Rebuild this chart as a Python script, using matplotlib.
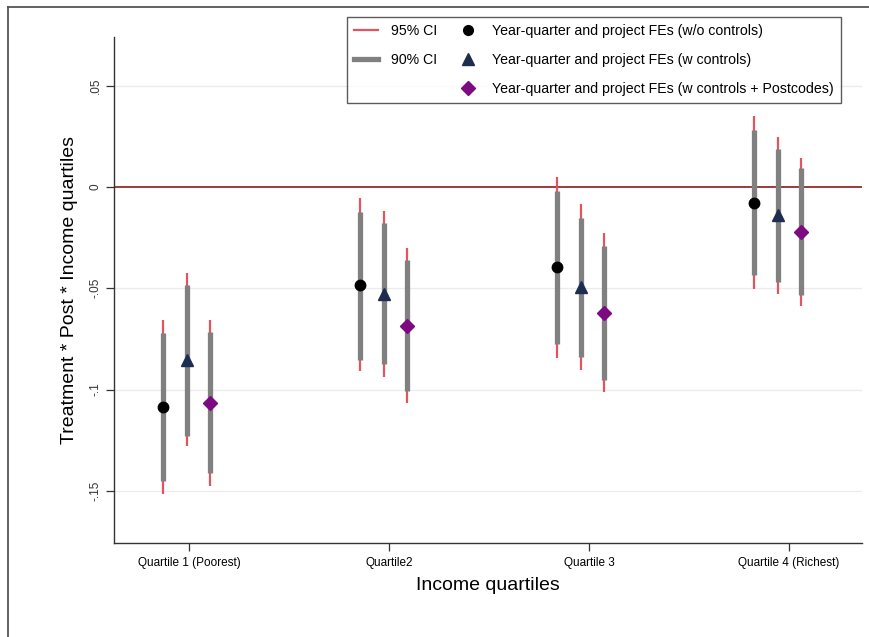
import matplotlib
matplotlib.use("Agg")
import matplotlib.pyplot as plt
from matplotlib.lines import Line2D
import numpy as np

plt.rcParams["font.family"] = ["Liberation Sans", "DejaVu Sans"]

# Income quartile categories
categories = ["Quartile 1 (Poorest)", "Quartile2", "Quartile 3", "Quartile 4 (Richest)"]

# Point estimates per specification
coef_noctrl = [-0.1088, -0.0484, -0.0395, -0.0077]
coef_ctrl = [-0.0854, -0.0526, -0.0494, -0.0139]
coef_postcode = [-0.1066, -0.0684, -0.0621, -0.0223]

# 95% confidence intervals (low, high)
ci95_noctrl_lo = [-0.1516, -0.0909, -0.0843, -0.0505]
ci95_noctrl_hi = [-0.0658, -0.0053, 0.0051, 0.0351]
ci95_ctrl_lo = [-0.1280, -0.0936, -0.0903, -0.0526]
ci95_ctrl_hi = [-0.0427, -0.0117, -0.0086, 0.0249]
ci95_postcode_lo = [-0.1475, -0.1068, -0.1013, -0.0589]
ci95_postcode_hi = [-0.0658, -0.0300, -0.0229, 0.0145]

# 90% confidence intervals (low, high)
ci90_noctrl_lo = [-0.1450, -0.0853, -0.0774, -0.0436]
ci90_noctrl_hi = [-0.0721, -0.0122, -0.0018, 0.0282]
ci90_ctrl_lo = [-0.1228, -0.0876, -0.0840, -0.0469]
ci90_ctrl_hi = [-0.0485, -0.0177, -0.0155, 0.0187]
ci90_postcode_lo = [-0.1414, -0.1008, -0.0952, -0.0535]
ci90_postcode_hi = [-0.0716, -0.0358, -0.0290, 0.0093]

series_labels = [
    "Year-quarter and project FEs (w/o controls)",
    "Year-quarter and project FEs (w controls)",
    "Year-quarter and project FEs (w controls + Postcodes)",
]
yticks = [0.05, 0, -0.05, -0.1, -0.15]
ytick_labels = [".05", "0", "-.05", "-.1", "-.15"]

fig = plt.figure(figsize=(8.7, 6.37), dpi=100)
ax = fig.add_axes([114 / 870, 1 - 543 / 637, (862 - 114) / 870, (543 - 37) / 637])

base = np.array([0.99, 1.975, 2.96, 3.945])
offsets = [-0.118, 0.0, 0.116]

RED_CI = "#e2545e"
GRAY_CI = "#808080"
styles = [
    dict(marker="o", color="black", ms=7.5),
    dict(marker="^", color="#1e2d4f", ms=8.8),
    dict(marker="D", color="#7d0a80", ms=7.5),
]
coefs = [coef_noctrl, coef_ctrl, coef_postcode]
ci95 = [(ci95_noctrl_lo, ci95_noctrl_hi), (ci95_ctrl_lo, ci95_ctrl_hi), (ci95_postcode_lo, ci95_postcode_hi)]
ci90 = [(ci90_noctrl_lo, ci90_noctrl_hi), (ci90_ctrl_lo, ci90_ctrl_hi), (ci90_postcode_lo, ci90_postcode_hi)]

for y in [0.05, -0.05, -0.1, -0.15]:
    ax.axhline(y, color="#ebebeb", lw=0.9, zorder=0)
ax.axhline(0, color="#8b1a1a", lw=1.2, zorder=1)

for k in range(3):
    x = base + offsets[k]
    ax.vlines(x, ci95[k][0], ci95[k][1], color=RED_CI, lw=1.6, zorder=2)
    ax.vlines(x, ci90[k][0], ci90[k][1], color=GRAY_CI, lw=3.8, zorder=3)
    ax.plot(x, coefs[k], linestyle="none", marker=styles[k]["marker"],
            color=styles[k]["color"], ms=styles[k]["ms"], zorder=4)

ax.set_xlim(0.625, 4.365)
ax.set_ylim(-0.1758, 0.0741)
ax.set_xticks([1, 2, 3, 4])
ax.set_xticklabels(categories, fontsize=8.5)
ax.set_yticks(yticks)
ax.set_yticklabels(ytick_labels, fontsize=8.5, rotation=90, va="center", color="#333333")
ax.tick_params(axis="both", length=6, width=0.9, color="#333333")
ax.tick_params(axis="x", pad=4)
ax.tick_params(axis="y", pad=3)

for side in ["top", "right"]:
    ax.spines[side].set_visible(False)
for side in ["left", "bottom"]:
    ax.spines[side].set_color("#333333")
    ax.spines[side].set_linewidth(1.0)

ax.set_xlabel("Income quartiles", fontsize=14, labelpad=6)
ax.set_ylabel("Treatment * Post * Income quartiles", fontsize=14, labelpad=8)

# Legend: CI styles in the first column, specifications in the second
handles = [
    Line2D([], [], color=RED_CI, lw=1.6),
    Line2D([], [], color=GRAY_CI, lw=3.8),
    Line2D([], [], color="none"),
    Line2D([], [], linestyle="none", marker="o", color="black", ms=7),
    Line2D([], [], linestyle="none", marker="^", color="#1e2d4f", ms=8),
    Line2D([], [], linestyle="none", marker="D", color="#7d0a80", ms=7),
]
labels = ["95% CI", "90% CI", ""] + series_labels
leg = fig.legend(handles, labels, ncol=2, loc="upper left",
                 bbox_to_anchor=(347 / 870, 1 - 17 / 637),
                 fontsize=10.2, frameon=True, fancybox=False,
                 edgecolor="#333333", handlelength=1.7, handletextpad=0.9,
                 columnspacing=1.3, labelspacing=1.05, borderpad=0.5,
                 borderaxespad=0.0)
leg.get_frame().set_linewidth(1.0)

# Outer frame lines
fig.add_artist(Line2D([8 / 870, 1], [1 - 7 / 637, 1 - 7 / 637], transform=fig.transFigure,
                      color="#555555", lw=1.3))
fig.add_artist(Line2D([8 / 870, 8 / 870], [0, 1 - 7 / 637], transform=fig.transFigure,
                      color="#555555", lw=1.3))

fig.savefig("out.png", dpi=100, facecolor="white")
